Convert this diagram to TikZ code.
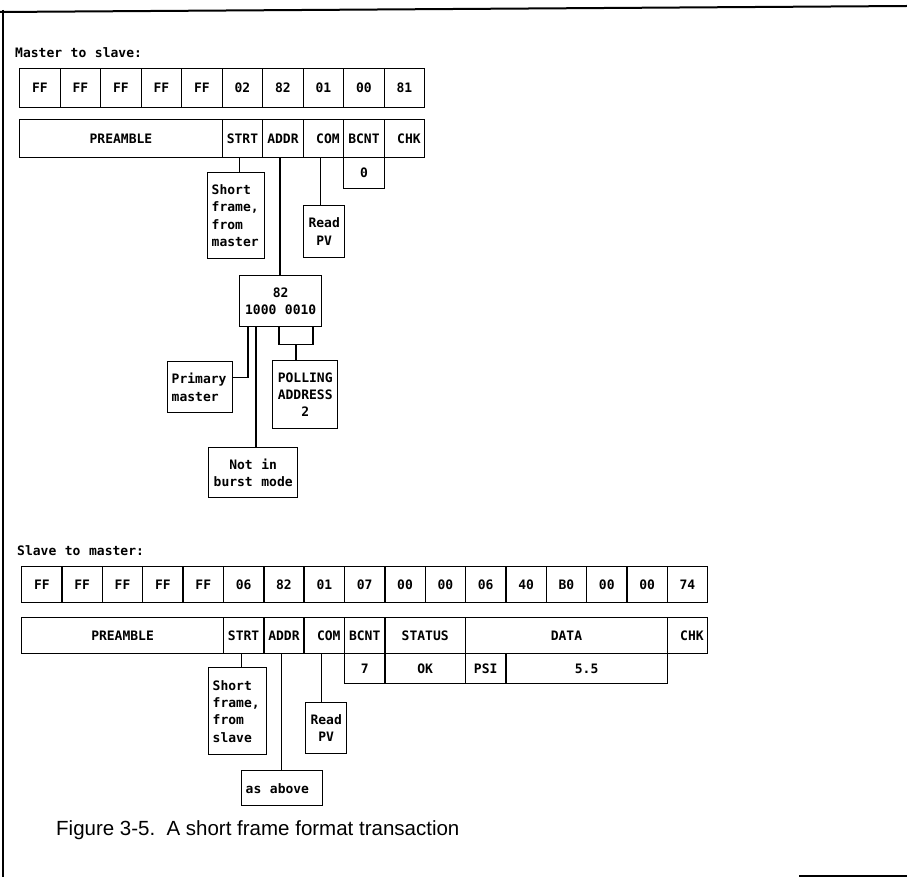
\documentclass[tikz,border=0pt]{standalone}
\usepackage{fontspec}
\setmainfont{Liberation Sans}
\newfontfamily\plotfont{DejaVu Sans Mono}
\usetikzlibrary{calc}

% fixed gap between words in the plotter lettering
\newcommand{\wgap}{\hspace{0.66em}}

\tikzset{
  box/.style={draw, line width=1.4pt, inner sep=0pt, anchor=north west},
  cell/.style={box, font=\plotfont\bfseries\fontsize{13}{15}\selectfont,
    text height=9.5pt, text depth=0pt},
  byte/.style={cell, minimum width=#1, minimum height=39pt},
  rcell/.style={cell, inner xsep=4pt, text width=#1-8pt, align=right},
  note/.style={box, font=\plotfont\bfseries\fontsize{13}{17.3}\selectfont, inner xsep=4pt},
  lnote/.style={note, text width=#1, align=left},
  cnote/.style={note, text width=#1, align=center},
  conn/.style={line width=1.4pt},
  frame/.style={line width=2pt},
  heading/.style={anchor=base west, inner sep=0pt, font=\plotfont\bfseries\fontsize{13}{15}\selectfont},
}

\begin{document}
\begin{tikzpicture}[x=1pt, y=-1pt]
\useasboundingbox (0,0) rectangle (907,877);

% page frame
\draw[frame] (0,12) -- (907,6);
\draw[frame] (3,10) -- (3,877);
\draw[line width=1.5pt] (799,876) -- (907,876);

% ---------------- master to slave ----------------
\node[heading] (mhead) at (15,58) {Master\wgap to\wgap slave:};

\foreach \v [count=\i from 0] in {FF,FF,FF,FF,FF,02,82,01,00,81}
  \node[byte=40.5pt] (mb\i) at (19+40.5*\i,68) {\v};

\node[cell, minimum width=202.5pt, minimum height=38pt] (mpre) at (19,119) {PREAMBLE};
\node[cell, minimum width=40.5pt, minimum height=38pt] (mstrt) at (221.5,119) {STRT};
\node[cell, minimum width=40.5pt, minimum height=38pt] (maddr) at (262,119) {ADDR};
\node[rcell=40.5pt, minimum height=38pt] (mcom) at (302.5,119) {COM};
\node[cell, minimum width=40.5pt, minimum height=38pt] (mbcnt) at (343,119) {BCNT};
\node[rcell=40.5pt, minimum height=38pt] (mchk) at (383.5,119) {CHK};
\node[cell, minimum width=40.5pt, minimum height=31pt] (mbval) at (343,157) {0};

\node[lnote=49pt, minimum height=86pt] (msf) at (207,172) {Short\\frame,\\from\\master};
\node[cnote=33pt, minimum height=52pt] (mread) at (303,205) {Read\\PV};
\node[cnote=74pt, minimum height=51pt] (b82) at (239,275) {82\\1000\wgap 0010};
\node[lnote=57pt, minimum height=51pt] (prim) at (167,361) {Primary\\master};
\node[cnote=57pt, minimum height=68pt] (poll) at (272,360) {POLLING\\ADDRESS\\2};
\node[cnote=81pt, minimum height=50pt] (burst) at (208,447) {Not\wgap in\\burst\wgap mode};

\draw[conn] ([xshift=-3pt]mstrt.south) -- ([xshift=-3pt]mstrt.south |- msf.north);
\draw[conn] ([xshift=-3pt]maddr.south) -- ([xshift=-3pt]maddr.south |- b82.north);
\draw[conn] ([xshift=-3pt]mcom.south) -- ([xshift=-3pt]mcom.south |- mread.north);

\draw[conn] ([xshift=9pt]b82.south west) |- ([yshift=9.5pt]prim.east);
\draw[conn] ([xshift=17pt]b82.south west) -- ([xshift=17pt]b82.south west |- burst.north);
\coordinate (brk) at ([xshift=57pt,yshift=-17pt]b82.south west);
\draw[conn] ([xshift=40pt]b82.south west) |- (brk) -| ([xshift=74pt]b82.south west);
\draw[conn] (brk) -- (brk |- poll.north);

% ---------------- slave to master ----------------
\node[heading] (shead) at (17,555) {Slave\wgap to\wgap master:};

\foreach \v [count=\i from 0] in {FF,FF,FF,FF,FF,06,82,01,07,00,00,06,40,B0,00,00,74}
  \node[cell, minimum width=40.35pt, minimum height=36pt] (sb\i) at (21+40.35*\i,566) {\v};

\node[cell, minimum width=201.75pt, minimum height=36pt] (spre) at (21,617) {PREAMBLE};
\node[cell, minimum width=40.35pt, minimum height=36pt] (sstrt) at (222.75,617) {STRT};
\node[cell, minimum width=40.35pt, minimum height=36pt] (saddr) at (263.1,617) {ADDR};
\node[rcell=40.35pt, minimum height=36pt] (scom) at (303.45,617) {COM};
\node[cell, minimum width=40.35pt, minimum height=36pt] (sbcnt) at (343.8,617) {BCNT};
\node[cell, minimum width=80.7pt, minimum height=36pt] (sstat) at (384.15,617) {STATUS};
\node[cell, minimum width=201.75pt, minimum height=36pt] (sdata) at (464.85,617) {DATA};
\node[rcell=40.35pt, minimum height=36pt] (schk) at (666.6,617) {CHK};

\node[cell, minimum width=40.35pt, minimum height=30pt] (sbval) at (343.8,653) {7};
\node[cell, minimum width=80.7pt, minimum height=30pt] (sstval) at (384.15,653) {OK};
\node[cell, minimum width=40.35pt, minimum height=30pt] (sunit) at (464.85,653) {PSI};
\node[cell, minimum width=161.4pt, minimum height=30pt] (sval) at (505.2,653) {5.5};

\node[lnote=50pt, minimum height=87pt] (ssf) at (208,667) {Short\\frame,\\from\\slave};
\node[cnote=33pt, minimum height=51pt] (sread) at (305,702) {Read\\PV};
\node[lnote=73pt, minimum height=35pt] (sabove) at (241,770) {as\wgap above};

\draw[conn] ([xshift=-2pt]sstrt.south) -- ([xshift=-2pt]sstrt.south |- ssf.north);
\draw[conn] ([xshift=-2.5pt]saddr.south) -- ([xshift=-2.5pt]saddr.south |- sabove.north);
\draw[conn] ([xshift=-3pt]scom.south) -- ([xshift=-3pt]scom.south |- sread.north);

% caption
\node[anchor=base west, inner sep=0pt, font=\fontsize{20.5}{24}\selectfont] (cap) at (56,835)
  {Figure 3-5.\hspace{0.55em}A short frame format transaction};
\end{tikzpicture}
\end{document}
